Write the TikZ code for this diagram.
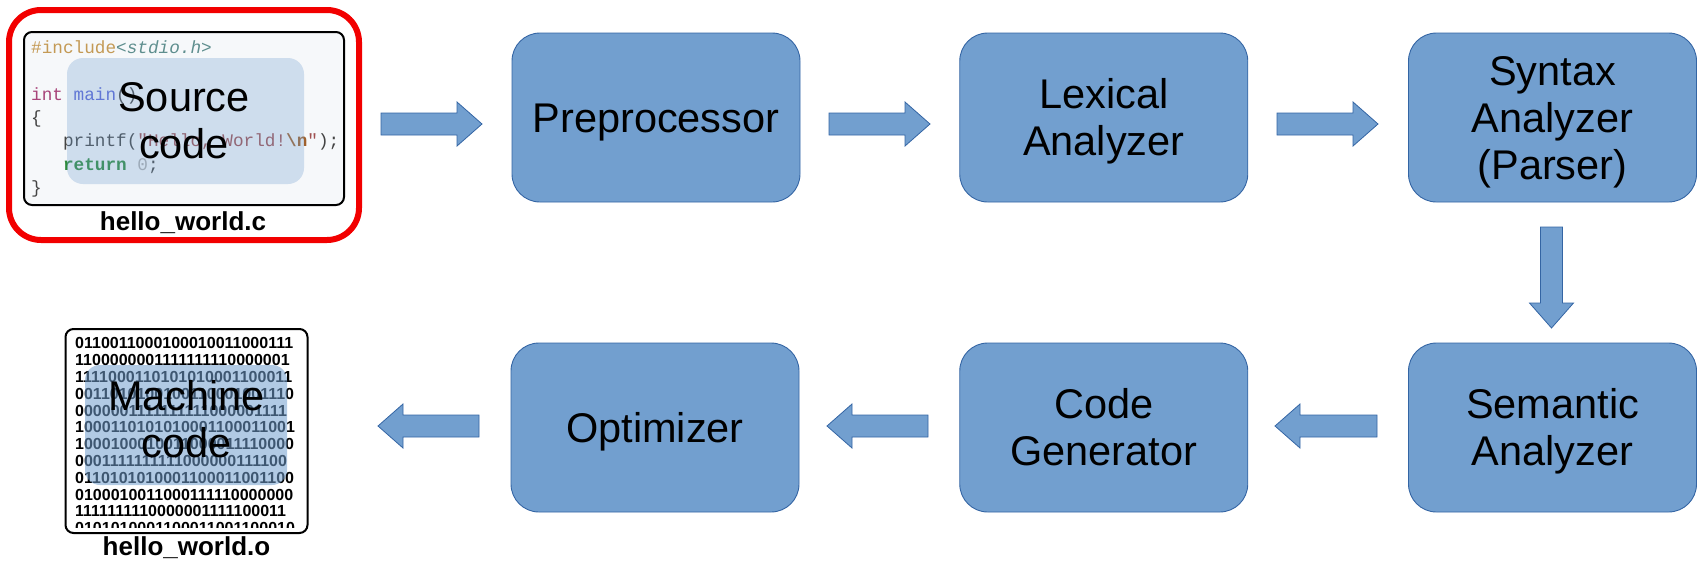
\documentclass[tikz,border=0pt]{standalone}
\usepackage{fontspec}
\setmainfont{Liberation Sans}
\setmonofont{Liberation Mono}
\usetikzlibrary{calc}
\definecolor{boxfill}{HTML}{729FCF}
\definecolor{boxline}{HTML}{3465A4}
\definecolor{codebg}{HTML}{F6F8FA}
\definecolor{framered}{HTML}{F20000}
\definecolor{cinc}{HTML}{C49A55}
\definecolor{cstd}{HTML}{5E8E8E}
\definecolor{cint}{HTML}{A8447A}
\definecolor{cmain}{HTML}{5A67D8}
\definecolor{cdark}{HTML}{444444}
\definecolor{cstr}{HTML}{A05050}
\definecolor{cesc}{HTML}{A0602A}
\definecolor{cret}{HTML}{2E8B3C}
\definecolor{czero}{HTML}{B0B0B0}
\newcommand\capline[1]{\rule{0pt}{0.716em}\smash{#1}}
\newcommand\blockarrow[2]{%
  \coordinate (hb) at ($(#2)!25pt!(#1)$);
  \draw[blockarrow] ($(#1)!11pt!90:(#2)$) -- ($(hb)!11pt!-90:(#1)$) -- ($(hb)!22pt!-90:(#1)$) -- (#2)
    -- ($(hb)!22pt!90:(#1)$) -- ($(hb)!11pt!90:(#1)$) -- ($(#1)!11pt!-90:(#2)$) -- cycle;
}
\begin{document}
\begin{tikzpicture}[x=1pt,y=-1pt,
  stage/.style={draw=boxline, fill=boxfill, line width=0.9pt, rounded corners=28pt,
    minimum width=288pt, minimum height=169pt, inner sep=0pt, align=center,
    font=\fontsize{41.5}{47}\selectfont},
  blockarrow/.style={fill=boxfill, draw=boxline, line width=0.8pt},
  codeline/.style={anchor=base west, inner sep=0pt, font=\ttfamily\fontsize{17.7}{23.4}\selectfont},
  veil/.style={fill=boxfill, draw=none, rounded corners=16pt, inner sep=0pt},
  biglabel/.style={inner sep=0pt, align=center, font=\fontsize{41.5}{47}\selectfont},
  filename/.style={anchor=base, inner sep=0pt, font=\bfseries\fontsize{26}{30}\selectfont},
  filebox/.style={draw=black, line width=2pt, rounded corners=8pt, inner sep=0pt}]
\useasboundingbox (0,0) rectangle (1708,574);

% ---------- source code ----------
\node[draw=framered, line width=6pt, rounded corners=32pt, minimum width=350pt,
  minimum height=230pt, inner sep=0pt] (srcframe) at (184,125) {};
\node[filebox, fill=codebg, minimum width=320pt, minimum height=173pt] (srcbox) at (184,118.5) {};
\node[codeline] (c1) at (31,53) {{\color{cinc}\#include}{\color{cstd}\itshape <stdio.h>}};
\node[codeline] (c2) at (31,100) {{\color{cint}int} {\color{cmain}main}{\color{cdark}()}};
\node[codeline] (c3) at (31,123) {{\color{cdark}\{}};
\node[codeline] (c4) at (62.9,146.5) {{\color{cdark}printf(}{\color{cstr}"Hello, World!}{\color{cesc}\bfseries\textbackslash n}{\color{cstr}"}{\color{cdark});}};
\node[codeline] (c5) at (62.9,170) {{\color{cret}\bfseries return} {\color{czero}0}{\color{cdark};}};
\node[codeline] (c6) at (31,193) {{\color{cdark}\}}};
\node[veil, fill opacity=0.3, minimum width=237pt, minimum height=126pt] (srcveil) at (185.5,121) {};
\node[biglabel] (srclabel) at (184,120.5) {\capline{Source}\\\capline{code}};
\node[filename] (srcname) at (183,230) {hello\_world.c};

% ---------- machine code ----------
\node[filebox, fill=white, minimum width=242pt, minimum height=204pt] (objbox) at (186.5,431) {};
\begin{scope}
\clip (67,331) rectangle (306,527);
\node[anchor=north west, inner sep=0pt, align=left, font=\bfseries\fontsize{16}{16.8}\selectfont] (bits) at (75,337.5)
 {0110011000100010011000111\\1100000001111111110000001\\1111000110101010001100011\\0011010100100110001001110\\
  0000001111111111000001111\\1000110101010001100011001\\1000100010011000011110000\\0001111111111000000111100\\
  0110101010001100011001100\\0100010011000111110000000\\1111111110000001111100011\\0101010001100011001100010};
\end{scope}
\node[veil, fill opacity=0.55, rounded corners=15pt, minimum width=202pt, minimum height=120pt] (objveil) at (186,425) {};
\node[biglabel] (objlabel) at (186.5,419.5) {\capline{Machine}\\\capline{code}};
\node[filename] (objname) at (186.5,555) {hello\_world.o};

% ---------- stages ----------
\node[stage] (pre) at (656,117.5) {\capline{Preprocessor}};
\node[stage] (lex) at (1103.75,117.5) {\capline{Lexical}\\\capline{Analyzer}};
\node[stage] (syn) at (1552.5,117.5) {\capline{Syntax}\\\capline{Analyzer}\\\capline{(Parser)}};
\node[stage] (sem) at (1552.5,427.5) {\capline{Semantic}\\\capline{Analyzer}};
\node[stage] (cg) at (1103.75,427.5) {\capline{Code}\\\capline{Generator}};
\node[stage] (opt) at (655,427.5) {\capline{Optimizer}};

% ---------- block arrows ----------
\coordinate (a1t) at (381,124);   \coordinate (a1h) at (482,124);
\coordinate (a2t) at (829,124);   \coordinate (a2h) at (930,124);
\coordinate (a3t) at (1277,124);  \coordinate (a3h) at (1378,124);
\coordinate (a4t) at (1551.5,227);\coordinate (a4h) at (1551.5,328);
\coordinate (a5t) at (1377,426);  \coordinate (a5h) at (1275,426);
\coordinate (a6t) at (928,426);   \coordinate (a6h) at (827,426);
\coordinate (a7t) at (479,426);   \coordinate (a7h) at (378,426);
\blockarrow{a1t}{a1h}
\blockarrow{a2t}{a2h}
\blockarrow{a3t}{a3h}
\blockarrow{a4t}{a4h}
\blockarrow{a5t}{a5h}
\blockarrow{a6t}{a6h}
\blockarrow{a7t}{a7h}
\end{tikzpicture}
\end{document}
